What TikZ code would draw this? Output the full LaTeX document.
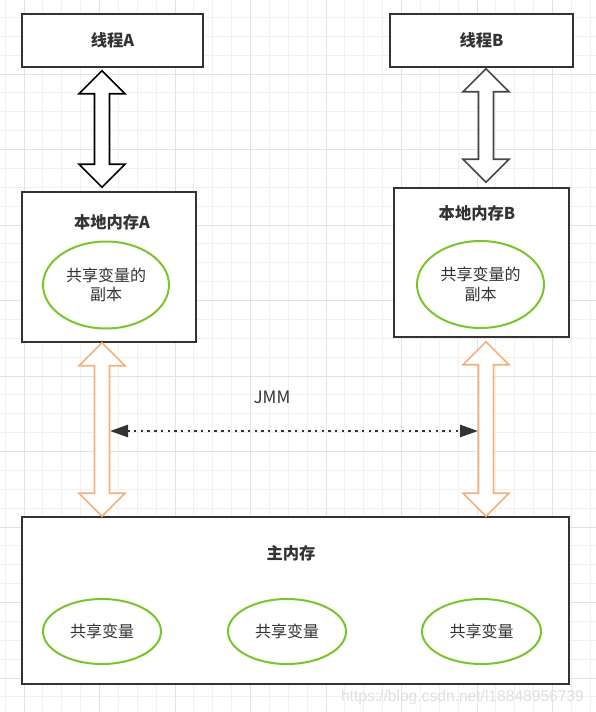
\documentclass[tikz,border=0pt]{standalone}
\usepackage{fontspec}
\newfontfamily\cjk{Noto Sans CJK SC}
\newfontfamily\wmfont{Liberation Sans}
\usetikzlibrary{calc,arrows.meta,shapes.geometric}
\definecolor{boxgray}{HTML}{333333}
\definecolor{gridminor}{HTML}{F1F1F1}
\definecolor{gridmajor}{HTML}{E3E3E3}
\definecolor{copygreen}{HTML}{7AC52A}
\definecolor{syncorange}{HTML}{F5B07C}
\definecolor{textgray}{HTML}{333333}
\tikzset{
  box/.style={draw=boxgray, line width=1.5pt, fill=white, inner sep=0pt, text=textgray, font=\cjk\bfseries\fontsize{16.3}{19.5}\selectfont},
  title/.style={text=textgray, font=\cjk\bfseries\fontsize{16.3}{19.5}\selectfont},
  var/.style={draw=copygreen, line width=2pt, fill=white, ellipse, inner sep=0pt, align=center, text=textgray, font=\cjk\fontsize{16}{19.5}\selectfont},
  blackarrow/.style={draw=black, line width=1.6pt, fill=white, line join=miter},
  grayarrow/.style={draw=boxgray!90, line width=1.6pt, fill=white, line join=miter},
  orangearrow/.style={draw=syncorange, line width=1.6pt, fill=white, line join=miter}
}
\newcommand{\twoway}[3]{%
  \draw[#1] let \p1=#2, \p2=#3 in
    (\x1,\y1) -- ({\x1+23pt},{\y1-23pt}) -- ({\x1+7.5pt},{\y1-23pt})
    -- ({\x1+7.5pt},{\y2+23pt}) -- ({\x1+23pt},{\y2+23pt}) -- (\x1,\y2)
    -- ({\x1-23pt},{\y2+23pt}) -- ({\x1-7.5pt},{\y2+23pt})
    -- ({\x1-7.5pt},{\y1-23pt}) -- ({\x1-23pt},{\y1-23pt}) -- cycle;}
\begin{document}
\begin{tikzpicture}[x=1pt, y=-1pt]
  \useasboundingbox[fill=white] (0,0) rectangle (596,712);
  \foreach \i in {0,...,31}
    \draw[gridminor, line width=0.8pt] ({5.125+\i*18.875},0) -- ++(0,712);
  \foreach \i in {0,...,36}
    \draw[gridminor, line width=0.8pt] (0,{17.375+\i*18.875}) -- ++(596,0);
  \foreach \i in {0,...,7}
    \draw[gridmajor, line width=0.8pt] ({24+\i*75.5},0) -- ++(0,712);
  \foreach \i in {1,...,9}
    \draw[gridmajor, line width=0.8pt] (0,{-1.5+\i*75.5}) -- ++(596,0);

  \coordinate (colA) at (102,0);
  \coordinate (colB) at (486,0);

  \node[box, minimum width=181pt, minimum height=53pt] (thrA) at (112.5,40.5) {线程A};
  \node[box, minimum width=183pt, minimum height=53pt] (thrB) at (481.5,40.5) {线程B};

  \node[box, minimum width=174pt, minimum height=150pt] (memA) at (109,267) {};
  \node[title] (memAt) at (112,222) {本地内存A};
  \node[var, minimum width=126pt, minimum height=87pt] (copyA) at (106,285) {共享变量的\\副本};

  \node[box, minimum width=175pt, minimum height=149pt] (memB) at (481.5,262.5) {};
  \node[title] (memBt) at (477,213) {本地内存B};
  \node[var, minimum width=127pt, minimum height=87pt] (copyB) at (480.5,284.5) {共享变量的\\副本};

  \node[box, minimum width=547pt, minimum height=167pt] (mainmem) at (295.5,600.5) {};
  \node[title] (mainmemt) at (291,553) {主内存};
  \node[var, minimum width=118pt, minimum height=65pt] (shared1) at (102,631.5) {共享变量};
  \node[var, minimum width=118pt, minimum height=65pt] (shared2) at (287,631.5) {共享变量};
  \node[var, minimum width=119pt, minimum height=65pt] (shared3) at (481.5,631.5) {共享变量};

  \twoway{blackarrow}{($(thrA.south -| colA)+(0,3)$)}{($(memA.north -| colA)+(0,-4)$)}
  \twoway{grayarrow}{($(thrB.south -| colB)+(0,1)$)}{($(memB.north -| colB)+(0,-5)$)}
  \twoway{orangearrow}{(memA.south -| colA)}{(mainmem.north -| colA)}
  \twoway{orangearrow}{($(memB.south -| colB)+(0,4)$)}{(mainmem.north -| colB)}

  \coordinate (jmmL) at (110,431);
  \coordinate (jmmR) at (478,431);
  \draw[boxgray, line width=2.6pt, dash pattern=on 2.4pt off 4.3pt,
    {Triangle[length=18pt,width=12pt]}-{Triangle[length=18pt,width=12pt]}] (jmmL) -- (jmmR);
  \node[text=textgray, font=\cjk\fontsize{17}{20}\selectfont] (jmm) at (272,397) {JMM};

  \node[text=black!12, font=\wmfont\fontsize{15.6}{18}\selectfont] (mark) at (462.5,697) {https://blog.csdn.net/l18848956739};
\end{tikzpicture}
\end{document}
